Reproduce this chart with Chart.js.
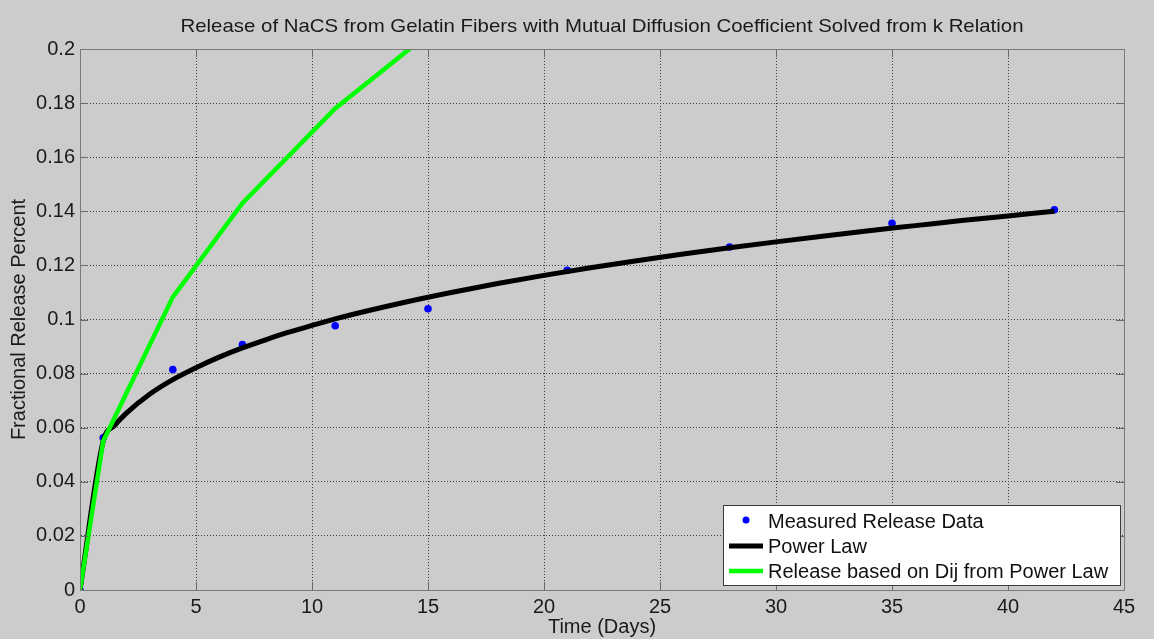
<!DOCTYPE html>
<html>
<head>
<meta charset="utf-8">
<script src="https://cdn.jsdelivr.net/npm/chart.js@4.4.1/dist/chart.umd.min.js"></script>
<style>
  html, body { margin: 0; padding: 0; background: #cccccc; }
  #wrap { width: 1154px; height: 639px; }
</style>
</head>
<body>
<div id="wrap"><canvas id="c" width="1154" height="639"></canvas></div>
<script>
// Measured release of NaCS (day, fraction)
const measuredDays = [0, 1, 4, 7, 11, 15, 21, 28, 35, 42];
const measuredRelease = [0, 0.0563, 0.0815, 0.0907, 0.0977, 0.1040, 0.1182, 0.1268, 0.1356, 0.1406];

// Power-law fit curve
const powerDays = [0, 1, 1.5, 2, 3, 4, 5, 6, 7, 8, 9, 10, 11, 12, 14, 16, 18, 20, 22, 24, 26, 28, 30, 32, 34, 36, 38, 40, 42];
const powerRelease = [0, 0.0550, 0.0609, 0.0654, 0.0724, 0.0778, 0.0822, 0.0861, 0.0895, 0.0925, 0.0953, 0.0978, 0.1002, 0.1024, 0.1064, 0.1100, 0.1133, 0.1163, 0.1191, 0.1217, 0.1242, 0.1265, 0.1287, 0.1308, 0.1328, 0.1347, 0.1366, 0.1383, 0.1400];

// Release predicted from Dij of the power law
const dijDays = [0, 1, 4, 7, 11, 15];
const dijRelease = [0, 0.0550, 0.1083, 0.1430, 0.1780, 0.2055];

// Axis ticks
const xTickLabels = ['0', '5', '10', '15', '20', '25', '30', '35', '40', '45'];
const yTickLabels = ['0', '0.02', '0.04', '0.06', '0.08', '0.1', '0.12', '0.14', '0.16', '0.18', '0.2'];

const titleText = 'Release of NaCS from Gelatin Fibers with Mutual Diffusion Coefficient Solved from k Relation';
const xTitle = 'Time (Days)';
const yTitle = 'Fractional Release Percent';
const FONT = '"Liberation Sans", Arial, sans-serif';

const toXY = (xs, ys) => xs.map((x, i) => ({ x: x, y: ys[i] }));

// Axes box, inward ticks, title, axis titles and the boxed legend
const decorations = {
  id: 'decorations',
  afterDatasetsDraw(chart) {
    const ctx = chart.ctx;
    const a = chart.chartArea;
    const xs = chart.scales.x, ys = chart.scales.y;
    ctx.save();
    ctx.strokeStyle = '#6a6a6a';
    ctx.lineWidth = 1;
    ctx.beginPath();
    xs.ticks.forEach(t => {
      const px = Math.round(xs.getPixelForValue(t.value)) + 0.5;
      ctx.moveTo(px, a.bottom); ctx.lineTo(px, a.bottom - 8);
      ctx.moveTo(px, a.top); ctx.lineTo(px, a.top + 8);
    });
    ys.ticks.forEach(t => {
      const py = Math.round(ys.getPixelForValue(t.value)) + 0.5;
      ctx.moveTo(a.left, py); ctx.lineTo(a.left + 8, py);
      ctx.moveTo(a.right, py); ctx.lineTo(a.right - 8, py);
    });
    ctx.stroke();
    ctx.strokeStyle = '#7a7a7a';
    ctx.strokeRect(Math.round(a.left) + 0.5, Math.round(a.top) + 0.5, Math.round(a.right - a.left), Math.round(a.bottom - a.top));
    ctx.restore();
  },
  afterDraw(chart) {
    const ctx = chart.ctx;
    const a = chart.chartArea;
    ctx.save();
    // title, horizontally condensed
    ctx.fillStyle = '#1a1a1a';
    ctx.font = '19px ' + FONT;
    ctx.textAlign = 'center';
    ctx.textBaseline = 'middle';
    const w = ctx.measureText(titleText).width;
    const target = 843;
    ctx.save();
    ctx.translate((a.left + a.right) / 2, 27);
    ctx.scale(target / w, 1);
    ctx.fillText(titleText, 0, 0);
    ctx.restore();
    // axis titles
    ctx.font = '20px ' + FONT;
    ctx.fillText(xTitle, (a.left + a.right) / 2, 627);
    ctx.save();
    ctx.translate(19, (a.top + a.bottom) / 2);
    ctx.rotate(-Math.PI / 2);
    ctx.fillText(yTitle, 0, 0);
    ctx.restore();

    // legend
    const lx = 723.5, ly = 505.5, lw = 397, lh = 80;
    ctx.fillStyle = '#ffffff';
    ctx.fillRect(lx, ly, lw, lh);
    ctx.strokeStyle = '#3a3a3a';
    ctx.lineWidth = 1;
    ctx.strokeRect(lx, ly, lw, lh);
    const rows = [521, 546, 571];
    ctx.textAlign = 'left';
    ctx.textBaseline = 'middle';
    ctx.font = '20px ' + FONT;
    [0, 1, 2].forEach((di, r) => {
      const ds = chart.data.datasets[di];
      const y = rows[r];
      if (ds.showLine === false) {
        ctx.fillStyle = ds.pointBackgroundColor;
        ctx.beginPath();
        ctx.arc(746, y - 1, 3.5, 0, Math.PI * 2);
        ctx.fill();
      } else {
        ctx.strokeStyle = ds.borderColor;
        ctx.lineWidth = ds.borderWidth;
        ctx.beginPath();
        ctx.moveTo(729, y); ctx.lineTo(763, y);
        ctx.stroke();
      }
      ctx.fillStyle = '#111111';
      ctx.fillText(ds.label, 768, y + 1);
    });
    ctx.restore();
  }
};

const gridStyle = {
  color: '#3c3c3c',
  lineWidth: 1,
  drawTicks: false
};

new Chart(document.getElementById('c'), {
  type: 'scatter',
  data: {
    datasets: [
      {
        label: 'Measured Release Data',
        data: toXY(measuredDays, measuredRelease),
        showLine: false,
        pointRadius: 3.8,
        pointBackgroundColor: '#0000ff',
        pointBorderColor: '#0000ff',
        pointBorderWidth: 0,
        order: 2
      },
      {
        label: 'Power Law',
        data: toXY(powerDays, powerRelease),
        showLine: true,
        borderColor: '#000000',
        borderWidth: 5,
        pointRadius: 0,
        cubicInterpolationMode: 'monotone',
        order: 1
      },
      {
        label: 'Release based on Dij from Power Law',
        data: toXY(dijDays, dijRelease),
        showLine: true,
        borderColor: '#00ff00',
        borderWidth: 4.5,
        pointRadius: 0,
        tension: 0,
        order: 0
      }
    ]
  },
  plugins: [decorations],
  options: {
    responsive: false,
    animation: false,
    events: [],
    layout: { padding: { left: 0, right: 30, top: 49, bottom: 0 } },
    plugins: {
      legend: { display: false },
      title: { display: false },
      tooltip: { enabled: false }
    },
    scales: {
      x: {
        type: 'linear',
        min: 0,
        max: 45,
        afterFit(s) { s.height = 49; },
        afterBuildTicks(s) { s.ticks = xTickLabels.map((l, i) => ({ value: i * 5 })); },
        ticks: {
          color: '#1a1a1a',
          font: { family: FONT, size: 20 },
          padding: 5,
          maxRotation: 0,
          autoSkip: false,
          callback: (v, i) => xTickLabels[i]
        },
        grid: Object.assign({}, gridStyle),
        border: { display: true, color: '#7a7a7a', dash: [1, 2] }
      },
      y: {
        type: 'linear',
        min: 0,
        max: 0.2,
        afterFit(s) { s.width = 80; },
        afterBuildTicks(s) { s.ticks = yTickLabels.map((l, i) => ({ value: i * 0.02 })); },
        ticks: {
          color: '#1a1a1a',
          font: { family: FONT, size: 20 },
          padding: 5,
          autoSkip: false,
          callback: (v, i) => yTickLabels[i]
        },
        grid: Object.assign({}, gridStyle),
        border: { display: true, color: '#7a7a7a', dash: [1, 2] }
      }
    }
  }
});
</script>
</body>
</html>
